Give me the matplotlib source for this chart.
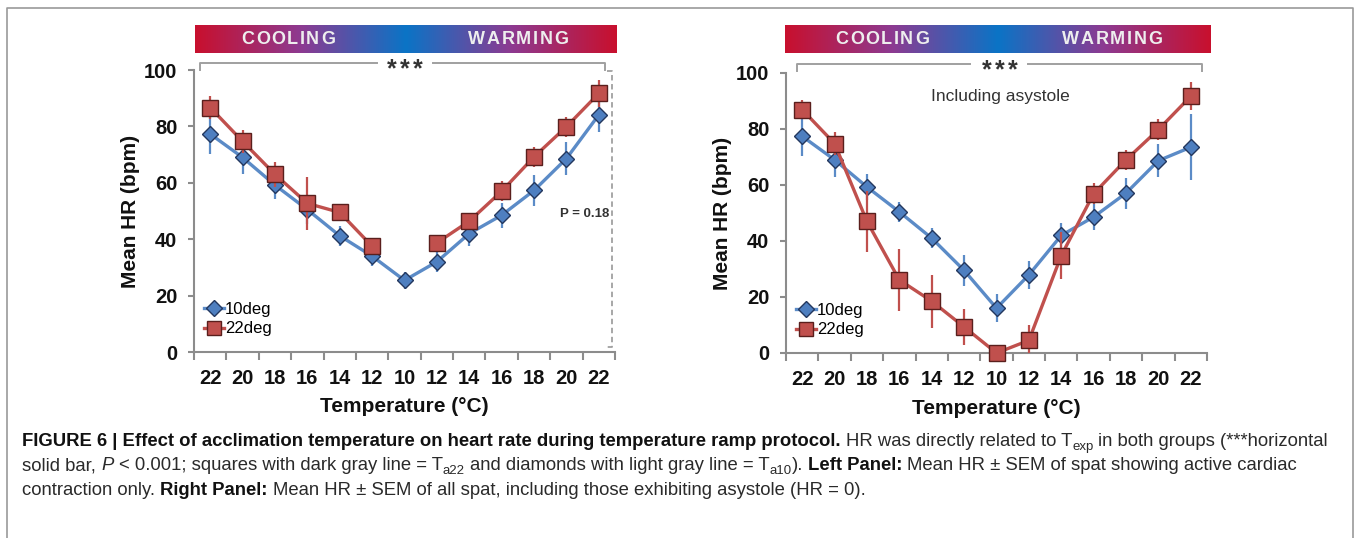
import numpy as np
import matplotlib
matplotlib.use("Agg")
import matplotlib.pyplot as plt
from matplotlib.colors import LinearSegmentedColormap
from matplotlib.lines import Line2D

plt.rcParams['font.family'] = ['Liberation Sans', 'DejaVu Sans']

# ---- data ----
temp_labels = ['22', '20', '18', '16', '14', '12', '10', '12', '14', '16', '18', '20', '22']
nan = np.nan

left_10 = [77.3, 69.0, 59.2, 50.5, 41.2, 34.0, 25.4, 32.0, 42.0, 48.5, 57.3, 68.6, 84.1]
left_10_err = [7, 6, 5, 5, 3.5, 3.5, 3, 3.8, 4.5, 4.5, 5.5, 6, 6]
left_22 = [86.7, 74.7, 63.0, 52.7, 49.5, 37.5, nan, 38.7, 46.4, 57.0, 69.2, 79.9, 91.7]
left_22_err = [4, 4, 4.5, 9.5, 1, 2, nan, 1, 3, 3.6, 3.6, 3.5, 4.7]

right_10 = [77.4, 69.0, 59.3, 50.4, 41.0, 29.5, 16.0, 27.9, 42.0, 48.6, 57.1, 68.7, 73.5]
right_10_err = [7, 6, 4.5, 3.5, 3.5, 5.5, 5, 5, 4.5, 4.5, 5.5, 6, 11.8]
right_22 = [86.9, 74.8, 47.0, 26.1, 18.5, 9.3, 0, 4.5, 34.8, 56.9, 69.0, 79.8, 91.7]
right_22_err = [3.5, 4, 11, 11, 9.5, 6.3, 0, 5.5, 8.5, 3.8, 3.6, 3.6, 5]

W, H = 1357, 538
BLUE_LINE, BLUE_FILL, BLUE_EDGE = '#5b8bc7', '#4e7fc0', '#23375e'
RED_LINE, RED_FILL, RED_EDGE = '#c0504d', '#c0504d', '#5a1f1d'
GRAY = '#8c8c8c'


def px(x, y):
    return x / W, 1 - y / H


def panel(x0, x1, y0, y100, d10, e10, d22, e22):
    ax = fig.add_axes([x0 / W, 1 - y0 / H, (x1 - x0) / W, (y0 - y100) / H])
    x = np.arange(len(temp_labels))
    ax.errorbar(x, d10, yerr=e10, fmt='none', ecolor=BLUE_LINE, elinewidth=1.6, zorder=2)
    l10, = ax.plot(x, d10, color=BLUE_LINE, lw=2.4, marker='D', ms=8.3,
                   mfc=BLUE_FILL, mec=BLUE_EDGE, mew=1.0, zorder=3, clip_on=False, label='10deg')
    ax.errorbar(x, d22, yerr=e22, fmt='none', ecolor=RED_LINE, elinewidth=1.6, zorder=4)
    l22, = ax.plot(x, d22, color=RED_LINE, lw=2.4, marker='s', ms=11,
                   mfc=RED_FILL, mec=RED_EDGE, mew=1.0, zorder=5, clip_on=False, label='22deg')
    ax.set_xlim(-0.5, len(temp_labels) - 0.5)
    ax.set_ylim(0, 100)
    ax.set_yticks([0, 20, 40, 60, 80, 100])
    ax.set_xticks(np.arange(len(temp_labels) + 1) - 0.5)
    ax.set_xticklabels([])
    ax.set_xticks(x, minor=True)
    ax.set_xticklabels(temp_labels, minor=True)
    ax.tick_params(axis='x', which='major', length=6, width=1.5, color=GRAY, direction='out')
    ax.tick_params(axis='x', which='minor', length=0, pad=12, labelsize=14.5)
    ax.tick_params(axis='y', length=4, width=1.5, color=GRAY, pad=8, labelsize=14.5)
    for lab in ax.get_xticklabels(minor=True) + ax.get_yticklabels():
        lab.set_fontweight('bold')
        lab.set_color('#111111')
    for s in ['top', 'right']:
        ax.spines[s].set_visible(False)
    for s in ['left', 'bottom']:
        ax.spines[s].set_color(GRAY)
        ax.spines[s].set_linewidth(1.5)
    ax.set_ylabel('Mean HR (bpm)', fontsize=15, fontweight='bold', va='center', color='#111111')
    ax.yaxis.set_label_coords(-64 / (x1 - x0), 0.5)
    ax.set_xlabel('Temperature (°C)', fontsize=15, fontweight='bold', va='center', color='#111111')
    ax.xaxis.set_label_coords(0.5, -55 / (y0 - y100))
    ax.legend(handles=[l10, l22], loc='lower left', bbox_to_anchor=(0.0, 0.02), frameon=False,
              fontsize=12, handlelength=1.2, handletextpad=0.05, labelspacing=0.25,
              borderaxespad=0.2, numpoints=1, markerscale=0.95)
    return ax


cmap = LinearSegmentedColormap.from_list(
    'coolwarm_bar', ['#c8102e', '#8d3a91', '#0a74c6', '#8d3a91', '#c8102e'])


def text_width(s, **kw):
    t = fig.text(0, 0, s, **kw)
    w = t.get_window_extent(fig.canvas.get_renderer()).width
    t.remove()
    return w


def spaced_text(cx, cy, s, track=1.6, va='center', **kw):
    # letters one by one with extra tracking (px), centred on (cx, cy) in pixels
    widths = [text_width(ch, **kw) for ch in s]
    total = sum(widths) + track * (len(s) - 1)
    x = cx - total / 2
    for ch, w in zip(s, widths):
        fig.text(*px(x, cy), ch, ha='left', va=va, **kw)
        x += w + track


def rich_line(x, y, pieces, size=13.3):
    # pieces: (text, style) with style in n / b / i / sub ; y is baseline in px
    sp = 0.278 * size * 100 / 72
    for text, style in pieces:
        kw = dict(fontsize=size, color='#2a2a2a')
        dy = 0
        if style == 'b':
            kw.update(fontweight='bold', color='#111111')
        elif style == 'i':
            kw.update(fontstyle='italic')
        elif style == 'sub':
            kw.update(fontsize=size * 0.72)
            dy = 4
        lead = len(text) - len(text.lstrip(' '))
        trail = len(text) - len(text.rstrip(' '))
        core = text.strip(' ')
        x += lead * sp
        fig.text(*px(x, y + dy), core, ha='left', va='baseline', **kw)
        x += text_width(core, **kw) + trail * sp


def ramp_bar(x0, x1, y0, y1, cool_x, warm_x):
    bx = fig.add_axes([x0 / W, 1 - y1 / H, (x1 - x0) / W, (y1 - y0) / H])
    bx.imshow(np.linspace(0, 1, 512)[None, :], aspect='auto', cmap=cmap, extent=(0, 1, 0, 1))
    bx.set_axis_off()
    for t, cx in (('COOLING', cool_x), ('WARMING', warm_x)):
        spaced_text(cx, (y0 + y1) / 2, t, color='#eeeeee', fontsize=13, fontweight='bold',
                    zorder=5)


def bracket(x0, x1, y, gap0, gap1, cx):
    kw = dict(color='#a0a0a0', lw=1.4, transform=fig.transFigure)
    xs = [x0, x0, gap0]
    fig.add_artist(Line2D([px(v, 0)[0] for v in xs], [px(0, y + 7)[1], px(0, y)[1], px(0, y)[1]], **kw))
    xs = [gap1, x1, x1]
    fig.add_artist(Line2D([px(v, 0)[0] for v in xs], [px(0, y)[1], px(0, y)[1], px(0, y + 7)[1]], **kw))
    spaced_text(cx, y + 13, '***', track=3, va='baseline', fontsize=18,
                fontweight='bold', color='#333333')


fig = plt.figure(figsize=(W / 100, H / 100), dpi=100)

# left panel
panel(194, 615, 352, 70, left_10, left_10_err, left_22, left_22_err)
ramp_bar(195, 616, 25, 53, 288, 518)
bracket(200, 605, 63, 377, 433, 405)
# dashed P bracket
fig.add_artist(Line2D([px(607, 0)[0], px(612, 0)[0], px(612, 0)[0], px(607, 0)[0]],
                      [px(0, 71)[1], px(0, 71)[1], px(0, 347)[1], px(0, 347)[1]],
                      color='#a0a0a0', lw=1.3, ls=(0, (3, 2)), transform=fig.transFigure))
fig.text(*px(585, 214), 'P = 0.18', ha='center', va='center', fontsize=9.5,
         fontweight='bold', color='#333333')

# right panel
panel(786, 1207, 353, 73, right_10, right_10_err, right_22, right_22_err)
ramp_bar(785, 1211, 25, 53, 882, 1112)
bracket(797, 1202, 64, 970, 1028, 1000)
fig.text(*px(1000, 97), 'Including asystole', ha='center', va='center', fontsize=12.5,
         color='#333333')

# caption
caption = [
    [('FIGURE 6 | Effect of acclimation temperature on heart rate during temperature ramp protocol.', 'b'),
     (' HR was directly related to T', 'n'), ('exp', 'sub'),
     (' in both groups (***horizontal', 'n')],
    [('solid bar, ', 'n'), ('P', 'i'), (' < 0.001; squares with dark gray line = T', 'n'), ('a22', 'sub'),
     (' and diamonds with light gray line = T', 'n'), ('a10', 'sub'), ('). ', 'n'),
     ('Left Panel:', 'b'), (' Mean HR ± SEM of spat showing active cardiac', 'n')],
    [('contraction only. ', 'n'), ('Right Panel:', 'b'),
     (' Mean HR ± SEM of all spat, including those exhibiting asystole (HR = 0).', 'n')],
]
for i, pieces in enumerate(caption):
    rich_line(22, 446 + 24.5 * i, pieces)

# figure frame
fig.add_artist(Line2D([px(7, 0)[0], px(7, 0)[0], px(1353, 0)[0], px(1353, 0)[0]],
                      [0, px(0, 8)[1], px(0, 8)[1], 0], color='#9a9a9a', lw=1.2,
                      transform=fig.transFigure))

fig.savefig('out.png', dpi=100)
